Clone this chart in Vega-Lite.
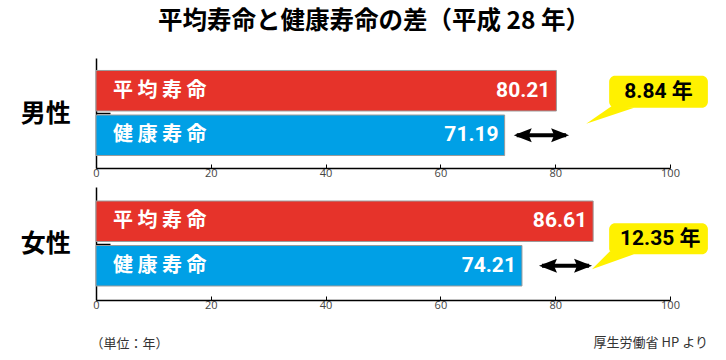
{
  "$schema": "https://vega.github.io/schema/vega-lite/v6.json",
  "background": "white",
  "padding": {"left": 20, "top": 8, "right": 10, "bottom": 5},
  "title": {"text": "平均寿命と健康寿命の差（平成 28 年）", "font": "Noto Sans CJK JP", "fontSize": 24.5, "fontWeight": "bold", "color": "#000", "anchor": "middle", "offset": 24, "dx": 10},
  "datasets": {
    "bars": [
      {"sex": "男性", "kind": "平均寿命", "label": "平 均 寿 命", "value": 80.21},
      {"sex": "男性", "kind": "健康寿命", "label": "健 康 寿 命", "value": 71.19},
      {"sex": "女性", "kind": "平均寿命", "label": "平 均 寿 命", "value": 86.61},
      {"sex": "女性", "kind": "健康寿命", "label": "健 康 寿 命", "value": 74.21}
    ],
    "gaps": [
      {"sex": "男性", "diff": "8.84 年", "from": 73.3, "to": 81.9, "tip": 85.4},
      {"sex": "女性", "diff": "12.35 年", "from": 77.7, "to": 85.9, "tip": 86.4}
    ]
  },
  "spacing": 9,
  "vconcat": [
    {
      "width": 574,
      "height": 110,
      "encoding": {
        "y": {"field": "kind", "type": "nominal", "sort": ["平均寿命", "健康寿命"], "scale": {"domain": ["平均寿命", "健康寿命"], "paddingInner": 0.09, "paddingOuter": 0.28},
          "axis": {"title": "男性", "labels": false, "values": ["健康寿命"], "tickOffset": -22, "tickSize": -14}}
      },
      "layer": [
        {
          "data": {"name": "bars"},
          "transform": [{"filter": "datum.sex === '男性'"}],
          "mark": {"type": "bar", "stroke": "#9a9a9a", "strokeWidth": 1},
          "encoding": {
            "x": {"field": "value", "type": "quantitative", "scale": {"domain": [0, 100]}, "axis": {"title": null, "values": [0, 20, 40, 60, 80, 100]}},
            "color": {"field": "kind", "type": "nominal", "scale": {"domain": ["平均寿命", "健康寿命"], "range": ["#e6332a", "#00a0e6"]}, "legend": null}
          }
        },
        {
          "data": {"name": "bars"},
          "transform": [{"filter": "datum.sex === '男性'"}],
          "mark": {"type": "text", "align": "left", "baseline": "middle", "dx": 17, "font": "Noto Sans CJK JP", "fontSize": 20, "fontWeight": "bold", "color": "white"},
          "encoding": {"x": {"datum": 0, "type": "quantitative"}, "text": {"field": "label"}}
        },
        {
          "data": {"name": "bars"},
          "transform": [{"filter": "datum.sex === '男性'"}],
          "mark": {"type": "text", "align": "right", "baseline": "middle", "dx": -6, "font": "Roboto", "fontSize": 21, "fontWeight": "bold", "color": "white"},
          "encoding": {"x": {"field": "value", "type": "quantitative"}, "text": {"field": "value", "format": ".2f"}}
        },
        {
          "data": {"name": "gaps"},
          "transform": [{"filter": "datum.sex === '男性'"}],
          "mark": {"type": "rule", "strokeWidth": 4, "color": "#000"},
          "encoding": {"x": {"field": "from", "type": "quantitative"}, "x2": {"field": "to"}, "y": {"datum": "健康寿命", "type": "nominal"}}
        },
        {
          "data": {"name": "gaps"},
          "transform": [{"filter": "datum.sex === '男性'"}],
          "mark": {"type": "point", "shape": "M-3,0L15,-7L12,0L15,7Z", "size": 4, "filled": true, "opacity": 1, "color": "#000"},
          "encoding": {"x": {"field": "from", "type": "quantitative"}, "y": {"datum": "健康寿命", "type": "nominal"}}
        },
        {
          "data": {"name": "gaps"},
          "transform": [{"filter": "datum.sex === '男性'"}],
          "mark": {"type": "point", "shape": "M3,0L-15,-7L-12,0L-15,7Z", "size": 4, "filled": true, "opacity": 1, "color": "#000"},
          "encoding": {"x": {"field": "to", "type": "quantitative"}, "y": {"datum": "健康寿命", "type": "nominal"}}
        },
        {
          "data": {"name": "gaps"},
          "transform": [{"filter": "datum.sex === '男性'"}],
          "mark": {"type": "point", "shape": "M0,0L26,-18L48,-16Z", "size": 4, "filled": true, "opacity": 1, "color": "#fff100", "yOffset": -11.5},
          "encoding": {"x": {"field": "tip", "type": "quantitative"}, "y": {"datum": "健康寿命", "type": "nominal"}}
        },
        {
          "data": {"name": "gaps"},
          "transform": [{"filter": "datum.sex === '男性'"}],
          "mark": {"type": "bar", "height": 32, "cornerRadius": 6, "color": "#fff100", "yOffset": 1},
          "encoding": {"x": {"datum": 89.4, "type": "quantitative"}, "x2": {"datum": 106.6}, "y": {"datum": "平均寿命", "type": "nominal"}}
        },
        {
          "data": {"name": "gaps"},
          "transform": [{"filter": "datum.sex === '男性'"}],
          "mark": {"type": "text", "align": "center", "baseline": "middle", "yOffset": 1, "font": "Roboto, Noto Sans CJK JP", "fontSize": 21, "fontWeight": "bold", "color": "#000"},
          "encoding": {"x": {"datum": 98.0, "type": "quantitative"}, "y": {"datum": "平均寿命", "type": "nominal"}, "text": {"field": "diff"}}
        }
      ]
    },
    {
      "width": 574,
      "height": 113,
      "title": {"text": "厚生労働省 HP より", "orient": "bottom", "anchor": "end", "offset": -13, "font": "Noto Sans CJK JP", "fontSize": 13, "fontWeight": "normal", "color": "#333"},
      "encoding": {
        "y": {"field": "kind", "type": "nominal", "sort": ["平均寿命", "健康寿命"], "scale": {"domain": ["平均寿命", "健康寿命"], "paddingInner": 0.09, "paddingOuter": 0.315},
          "axis": {"title": "女性", "labels": false, "values": ["健康寿命"], "tickOffset": -22, "tickSize": -14}}
      },
      "layer": [
        {
          "data": {"name": "bars"},
          "transform": [{"filter": "datum.sex === '女性'"}],
          "mark": {"type": "bar", "stroke": "#9a9a9a", "strokeWidth": 1},
          "encoding": {
            "x": {"field": "value", "type": "quantitative", "scale": {"domain": [0, 100]}, "axis": {"values": [0, 20, 40, 60, 80, 100], "title": "（単位：年）", "titleAnchor": "start", "titleAlign": "left", "titleX": -6, "titlePadding": 27, "titleFont": "Noto Sans CJK JP", "titleFontSize": 13, "titleFontWeight": "normal", "titleColor": "#333"}},
            "color": {"field": "kind", "type": "nominal", "scale": {"domain": ["平均寿命", "健康寿命"], "range": ["#e6332a", "#00a0e6"]}, "legend": null}
          }
        },
        {
          "data": {"name": "bars"},
          "transform": [{"filter": "datum.sex === '女性'"}],
          "mark": {"type": "text", "align": "left", "baseline": "middle", "dx": 17, "font": "Noto Sans CJK JP", "fontSize": 20, "fontWeight": "bold", "color": "white"},
          "encoding": {"x": {"datum": 0, "type": "quantitative"}, "text": {"field": "label"}}
        },
        {
          "data": {"name": "bars"},
          "transform": [{"filter": "datum.sex === '女性'"}],
          "mark": {"type": "text", "align": "right", "baseline": "middle", "dx": -6, "font": "Roboto", "fontSize": 21, "fontWeight": "bold", "color": "white"},
          "encoding": {"x": {"field": "value", "type": "quantitative"}, "text": {"field": "value", "format": ".2f"}}
        },
        {
          "data": {"name": "gaps"},
          "transform": [{"filter": "datum.sex === '女性'"}],
          "mark": {"type": "rule", "strokeWidth": 4, "color": "#000"},
          "encoding": {"x": {"field": "from", "type": "quantitative"}, "x2": {"field": "to"}, "y": {"datum": "健康寿命", "type": "nominal"}}
        },
        {
          "data": {"name": "gaps"},
          "transform": [{"filter": "datum.sex === '女性'"}],
          "mark": {"type": "point", "shape": "M-3,0L15,-7L12,0L15,7Z", "size": 4, "filled": true, "opacity": 1, "color": "#000"},
          "encoding": {"x": {"field": "from", "type": "quantitative"}, "y": {"datum": "健康寿命", "type": "nominal"}}
        },
        {
          "data": {"name": "gaps"},
          "transform": [{"filter": "datum.sex === '女性'"}],
          "mark": {"type": "point", "shape": "M3,0L-15,-7L-12,0L-15,7Z", "size": 4, "filled": true, "opacity": 1, "color": "#000"},
          "encoding": {"x": {"field": "to", "type": "quantitative"}, "y": {"datum": "健康寿命", "type": "nominal"}}
        },
        {
          "data": {"name": "gaps"},
          "transform": [{"filter": "datum.sex === '女性'"}],
          "mark": {"type": "point", "shape": "M0,0L18,-18L42,-15Z", "size": 4, "filled": true, "opacity": 1, "color": "#fff100", "yOffset": 3.5},
          "encoding": {"x": {"field": "tip", "type": "quantitative"}, "y": {"datum": "健康寿命", "type": "nominal"}}
        },
        {
          "data": {"name": "gaps"},
          "transform": [{"filter": "datum.sex === '女性'"}],
          "mark": {"type": "bar", "height": 31, "cornerRadius": 6, "color": "#fff100", "yOffset": 17.5},
          "encoding": {"x": {"datum": 89.4, "type": "quantitative"}, "x2": {"datum": 106.6}, "y": {"datum": "平均寿命", "type": "nominal"}}
        },
        {
          "data": {"name": "gaps"},
          "transform": [{"filter": "datum.sex === '女性'"}],
          "mark": {"type": "text", "align": "center", "baseline": "middle", "yOffset": 17.5, "font": "Roboto, Noto Sans CJK JP", "fontSize": 21, "fontWeight": "bold", "color": "#000"},
          "encoding": {"x": {"datum": 98.3, "type": "quantitative"}, "y": {"datum": "平均寿命", "type": "nominal"}, "text": {"field": "diff"}}
        }
      ]
    }
  ],
  "config": {
    "view": {"stroke": null},
    "axis": {"grid": false, "domainColor": "#000", "tickColor": "#000", "domainWidth": 1.5, "labelFont": "Open Sans", "labelFontSize": 11, "labelColor": "#444"},
    "axisX": {"tickSize": -4, "labelPadding": 3, "labelFlush": false},
    "axisY": {"titleAngle": 0, "titleAlign": "right", "titleBaseline": "middle", "titleFont": "Noto Sans CJK JP", "titleFontSize": 25, "titleFontWeight": "bold", "titleColor": "#000", "titlePadding": 25, "tickWidth": 1.5}
  }
}
